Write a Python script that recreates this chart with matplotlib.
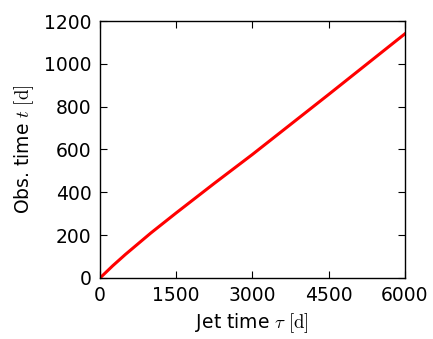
import matplotlib
matplotlib.use("Agg")
import matplotlib.pyplot as plt

# Jet-frame time vs. observed time
jet_time = [0, 250, 500, 1000, 1500, 2250, 3000, 4500, 6000]
obs_time = [0, 57, 110, 210, 304, 442, 577, 857, 1140]

x_ticks = [0, 1500, 3000, 4500, 6000]
y_ticks = [0, 200, 400, 600, 800, 1000, 1200]

plt.rcParams["mathtext.fontset"] = "cm"
plt.rcParams["font.family"] = ["DejaVu Sans"]
plt.rcParams["font.size"] = 13.5

fig = plt.figure(figsize=(4.33, 3.39), dpi=100)
ax = fig.add_axes([0.231, 0.18, 0.704, 0.758])

ax.plot(jet_time, obs_time, color="red", lw=2.2)

ax.set_xlim(0, 6000)
ax.set_ylim(0, 1200)
ax.set_xticks(x_ticks)
ax.set_yticks(y_ticks)
ax.tick_params(direction="in", top=True, right=True, length=5, width=0.8, pad=6)
for s in ax.spines.values():
    s.set_linewidth(1.0)

ax.set_xlabel(r"Jet time $\tau\ [\mathrm{d}]$", labelpad=4)
ax.set_ylabel(r"Obs. time $t\ [\mathrm{d}]$", labelpad=6)

fig.savefig("out.png", dpi=100, facecolor="white")
